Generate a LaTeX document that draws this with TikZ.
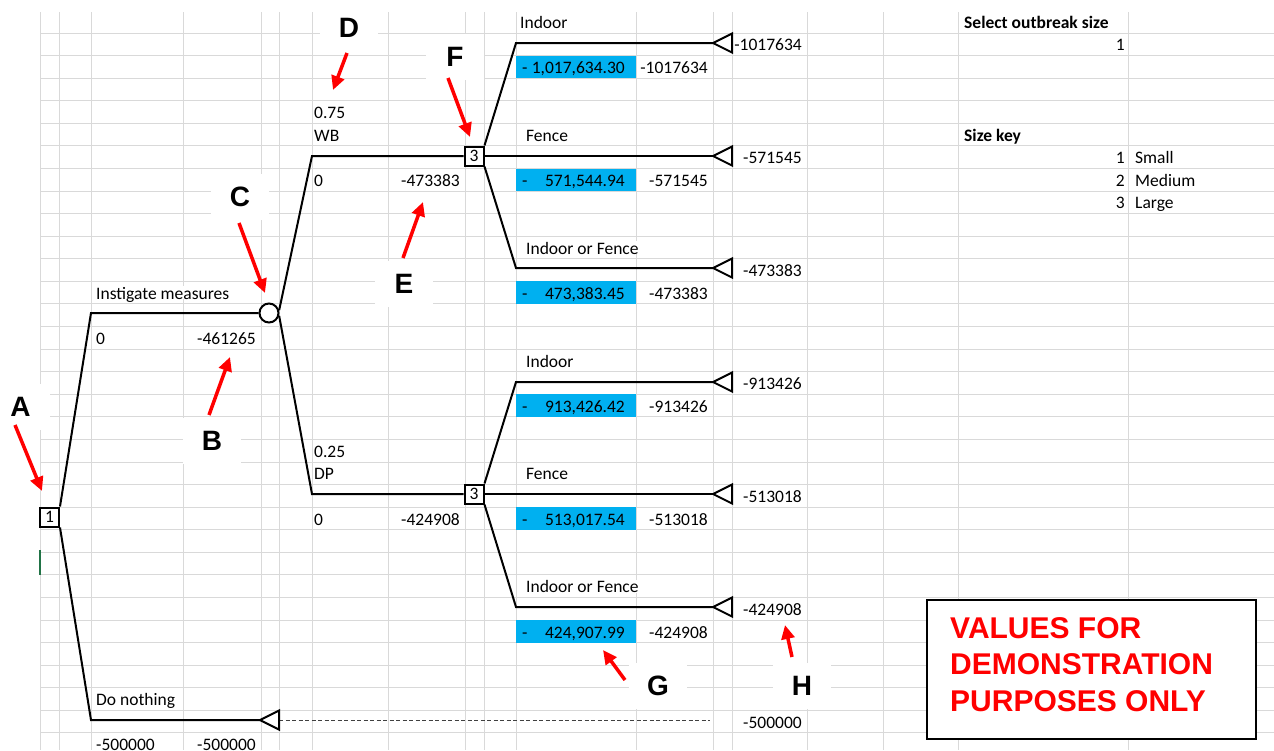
\documentclass[tikz,border=0pt]{standalone}
\usepackage{fontspec}
\setmainfont{Carlito}
\setsansfont{Liberation Sans}
\usetikzlibrary{arrows.meta}
\definecolor{gridgray}{HTML}{D9D9D9}
\definecolor{xlblue}{HTML}{00B0F0}
\definecolor{xlgreen}{HTML}{217346}
\newcommand{\cellfont}{\fontsize{17.5}{20}\selectfont}
\newcommand{\letterfont}{\sffamily\bfseries\fontsize{28}{30}\selectfont}
\newcommand{\warnfont}{\sffamily\bfseries\fontsize{30}{36.5}\selectfont}
\tikzset{
	gridline/.style={gridgray, line width=1pt},
	cell/.style={font=\cellfont, inner sep=0pt, text height=13.2pt, text depth=0pt, fill=white, anchor=west},
	cellr/.style={cell, anchor=east},
	valtxt/.style={font=\cellfont, inner sep=0pt, text height=13.2pt, text depth=0pt, anchor=west},
	valtxtr/.style={valtxt, anchor=east},
	valbox/.style={fill=xlblue, minimum width=120pt, minimum height=22.6pt, inner sep=0pt},
	branch/.style={line width=2pt},
	dec/.style={draw, line width=2pt, fill=white, minimum size=19pt, inner sep=0pt, font=\cellfont},
	chance/.style={draw, circle, line width=2pt, fill=white, minimum size=19pt, inner sep=0pt},
	endtri/.style={draw, line width=2pt, fill=white, line join=miter},
	dashline/.style={black!75, line width=0.9pt, dash pattern=on 4pt off 2.5pt},
	letter/.style={fill=white, minimum width=58pt, minimum height=46pt, inner sep=0pt, font=\letterfont},
	pointer/.style={red, line width=3.5pt, -{Triangle[length=14pt, width=13pt]}}
}

\begin{document}
\begin{tikzpicture}[x=1pt, y=-1pt]
	\fill[white] (0,0) rectangle (1274,750);
	\useasboundingbox (0,0) rectangle (1274,750);

	\foreach \gx in {40,59,91,183,261,279,312,388,465,484,516,636,713,732,807,883,958,1128}
		\draw[gridline] (\gx,12) -- (\gx,750);
	\foreach \gk in {0,...,31}
		\draw[gridline] (40,{33+22.58*\gk}) -- (1274,{33+22.58*\gk});
	\draw[xlgreen, line width=1.5pt] (40,550) -- (40,575);

	\node[valbox] (b1) at (576,66.9) {};
	\node[valbox] (b2) at (576,179.8) {};
	\node[valbox] (b3) at (576,292.7) {};
	\node[valbox] (b4) at (576,405.6) {};
	\node[valbox] (b5) at (576,518.5) {};
	\node[valbox] (b6) at (576,631.4) {};
	\node[valtxt] (b1d) at (522,66.9) {-};
	\node[valtxt] (b2d) at (522,179.8) {-};
	\node[valtxt] (b3d) at (522,292.7) {-};
	\node[valtxt] (b4d) at (522,405.6) {-};
	\node[valtxt] (b5d) at (522,518.5) {-};
	\node[valtxt] (b6d) at (522,631.4) {-};
	\node[valtxtr] (b1v) at (625,66.9) {1,017,634.30};
	\node[valtxtr] (b2v) at (625,179.8) {571,544.94};
	\node[valtxtr] (b3v) at (625,292.7) {473,383.45};
	\node[valtxtr] (b4v) at (625,405.6) {913,426.42};
	\node[valtxtr] (b5v) at (625,518.5) {513,017.54};
	\node[valtxtr] (b6v) at (625,631.4) {424,907.99};
	\node[cellr] (e1) at (708,66.9) {-1017634};
	\node[cellr] (e2) at (708,179.8) {-571545};
	\node[cellr] (e3) at (708,292.7) {-473383};
	\node[cellr] (e4) at (708,405.6) {-913426};
	\node[cellr] (e5) at (708,518.5) {-513018};
	\node[cellr] (e6) at (708,631.4) {-424908};

	\node[cell] (lim) at (96,292.7) {Instigate measures};
	\node[cell] (cim) at (96,337.8) {0};
	\node[cellr] (vim) at (256,337.8) {-461265};
	\node[cell] (ldn) at (96,699.1) {Do nothing};
	\node[cell] (cdn) at (96,744.3) {-500000};
	\node[cellr] (vdn) at (256,744.3) {-500000};
	\node[cell] (pwb) at (314,112) {0.75};
	\node[cell] (lwb) at (314,134.6) {WB};
	\node[cell] (cwb) at (314,179.8) {0};
	\node[cellr] (vwb) at (460,179.8) {-473383};
	\node[cell] (pdp) at (314,450.7) {0.25};
	\node[cell] (ldp) at (314,473.3) {DP};
	\node[cell] (cdp) at (314,518.5) {0};
	\node[cellr] (vdp) at (460,518.5) {-424908};
	\node[cell] (l1) at (520,21.7) {Indoor};
	\node[cell] (l2) at (526,134.6) {Fence};
	\node[cell] (l3) at (526,247.5) {Indoor or Fence};
	\node[cell] (l4) at (526,360.4) {Indoor};
	\node[cell] (l5) at (526,473.3) {Fence};
	\node[cell] (l6) at (526,586.2) {Indoor or Fence};
	\node[cellr] (v1) at (802,44.3) {-1017634};
	\node[cellr] (v2) at (802,157.2) {-571545};
	\node[cellr] (v3) at (802,270.1) {-473383};
	\node[cellr] (v4) at (802,383) {-913426};
	\node[cellr] (v5) at (802,495.9) {-513018};
	\node[cellr] (v6) at (802,608.8) {-424908};
	\node[cellr] (v0) at (802,721.7) {-500000};

	\node[cell, font=\cellfont\bfseries] (sel) at (964,21.7) {Select outbreak size};
	\node[cellr] (seln) at (1125,44.3) {1};
	\node[cell, font=\cellfont\bfseries] (key) at (964,134.6) {Size key};
	\node[cellr] (k1) at (1125,157.2) {1};
	\node[cellr] (k2) at (1125,179.8) {2};
	\node[cellr] (k3) at (1125,202.3) {3};
	\node[cell] (k1t) at (1135,157.2) {Small};
	\node[cell] (k2t) at (1135,179.8) {Medium};
	\node[cell] (k3t) at (1135,202.3) {Large};

	\node[draw, line width=2pt, fill=white, minimum width=329pt, minimum height=139pt, inner sep=0pt] (warn) at (1091.5,669.5) {};
	\node[red, font=\warnfont, align=left, inner sep=0pt, anchor=west] (warnt) at (950,664.5) {VALUES FOR\\DEMONSTRATION\\PURPOSES ONLY};

	\node[letter] (la) at (20.5,406.5) {A};
	\node[letter] (lb) at (212,441) {B};
	\node[letter] (lc) at (240,197) {C};
	\node[letter] (ld) at (349,28) {D};
	\node[letter] (le) at (404,284) {E};
	\node[letter] (lf) at (455,57) {F};
	\node[letter] (lg) at (658,686) {G};
	\node[letter] (lh) at (802,686) {H};

	\coordinate (im) at (91,313);
	\coordinate (dn) at (91,720);
	\coordinate (wbk) at (312,156);
	\coordinate (dpk) at (312,494);
	\coordinate (wb1k) at (516,43);
	\coordinate (wb3k) at (516,268);
	\coordinate (dp1k) at (516,382);
	\coordinate (dp3k) at (516,607);
	\coordinate (t0) at (260,720);
	\coordinate (t0b) at (279,720);
	\coordinate (dnend) at (710,720);
	\coordinate (t1) at (713,43);
	\coordinate (t2) at (713,156);
	\coordinate (t3) at (713,268);
	\coordinate (t4) at (713,382);
	\coordinate (t5) at (713,494);
	\coordinate (t6) at (713,607);

	\node[dec] (d1) at (49.5,517) {1};
	\node[chance] (ch) at (269,313) {};
	\node[dec] (wb) at (474,156) {3};
	\node[dec] (dp) at (474,494) {3};

	\draw[branch] (d1.north east) -- (im) -- (ch.west);
	\draw[branch] (d1.south east) -- (dn) -- (t0);
	\draw[dashline] (t0b) -- (dnend);
	\draw[branch] (ch.15) -- (wbk) -- (wb.west);
	\draw[branch] (ch.-15) -- (dpk) -- (dp.west);
	\draw[branch] (wb.north east) -- (wb1k) -- (t1);
	\draw[branch] (wb.east) -- (t2);
	\draw[branch] (wb.south east) -- (wb3k) -- (t3);
	\draw[branch] (dp.north east) -- (dp1k) -- (t4);
	\draw[branch] (dp.east) -- (t5);
	\draw[branch] (dp.south east) -- (dp3k) -- (t6);
	\foreach \t in {t0,t1,t2,t3,t4,t5,t6}
		\draw[endtri] (\t) -- ++(19,-9.5) -- ++(0,19) -- cycle;

	\coordinate (pa1) at (15,425);
	\coordinate (pa2) at (42,491);
	\coordinate (pb1) at (209,415);
	\coordinate (pb2) at (230,357);
	\coordinate (pc1) at (239,223);
	\coordinate (pc2) at (265,293);
	\coordinate (pd1) at (347,53);
	\coordinate (pd2) at (333,90);
	\coordinate (pe1) at (403,258);
	\coordinate (pe2) at (423,202);
	\coordinate (pf1) at (448,78);
	\coordinate (pf2) at (470,137);
	\coordinate (pg1) at (625,680);
	\coordinate (pg2) at (603,650);
	\coordinate (ph1) at (792,657);
	\coordinate (ph2) at (785,625);
	\draw[pointer] (pa1) -- (pa2);
	\draw[pointer] (pb1) -- (pb2);
	\draw[pointer] (pc1) -- (pc2);
	\draw[pointer] (pd1) -- (pd2);
	\draw[pointer] (pe1) -- (pe2);
	\draw[pointer] (pf1) -- (pf2);
	\draw[pointer] (pg1) -- (pg2);
	\draw[pointer] (ph1) -- (ph2);
\end{tikzpicture}
\end{document}
